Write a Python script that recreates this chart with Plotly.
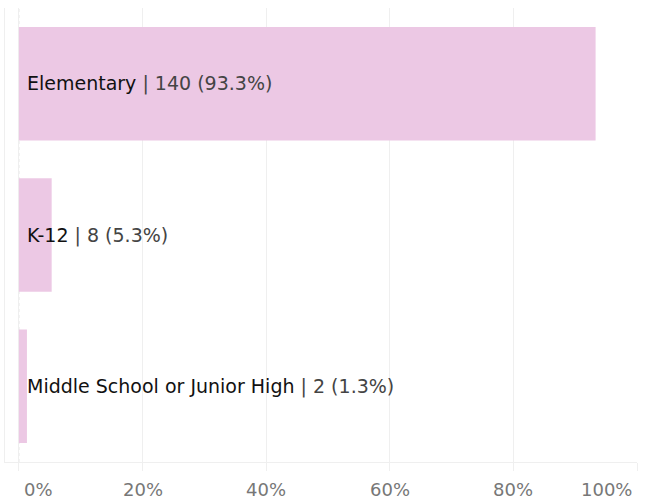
import plotly.graph_objects as go

categories = ["Elementary", "K-12", "Middle School or Junior High"]
counts = [140, 8, 2]
percents = [93.3, 5.3, 1.3]
tick_vals = [0, 0.2, 0.4, 0.6, 0.8, 1.0]
tick_text = ["0%", "20%", "40%", "60%", "80%", "100%"]

bar_color = "#ECC8E4"
grid_color = "#EFEFEF"
font_family = "'DejaVu Sans', Verdana, sans-serif"

fig = go.Figure()
fig.add_trace(go.Bar(
    y=categories,
    x=[p / 100 for p in percents],
    orientation="h",
    marker=dict(color=bar_color, line=dict(width=0)),
    width=0.75,
    hoverinfo="skip",
))

for cat, n, p in zip(categories, counts, percents):
    fig.add_annotation(
        x=0, y=cat, xref="x", yref="y",
        xanchor="left", yanchor="middle", xshift=6,
        showarrow=False,
        text=(f"<span style='color:#111'>{cat}</span>"
              f"<span style='color:#444'> | {n} ({p}%)</span>"),
        font=dict(family=font_family, size=19, color="#222"),
    )

# x tick labels (end labels kept inside the chart like the original)
for i, (v, t) in enumerate(zip(tick_vals, tick_text)):
    if i == 0:
        anchor, shift = "left", 3
    elif i == len(tick_vals) - 1:
        anchor, shift = "right", -3
    else:
        anchor, shift = "center", 0
    fig.add_annotation(
        x=v, y=0, xref="x", yref="paper",
        xanchor=anchor, yanchor="middle", xshift=shift, yshift=-27,
        showarrow=False, text=t,
        font=dict(family=font_family, size=18, color="#777"),
    )

# dashed zero reference line
fig.add_shape(type="line", xref="x", yref="paper", x0=0, x1=0, y0=0, y1=1,
              line=dict(color="#E2E2E2", width=1, dash="dot"), layer="below")

fig.update_layout(
    width=650, height=502,
    margin=dict(l=5, r=13, t=8, b=40, autoexpand=False),
    paper_bgcolor="white", plot_bgcolor="white",
    showlegend=False,
    bargap=0.25,
    font=dict(family=font_family, size=18, color="#666"),
    xaxis=dict(
        range=[-0.0225, 1.0],
        tickvals=tick_vals, showticklabels=False,
        showgrid=True, gridcolor=grid_color, gridwidth=1,
        zeroline=False,
        showline=True, linecolor=grid_color, linewidth=1,
        ticks="outside", ticklen=8, tickcolor=grid_color,
        automargin=False,
    ),
    yaxis=dict(
        autorange="reversed",
        showticklabels=False,
        showgrid=False, zeroline=False,
        showline=True, linecolor=grid_color, linewidth=1,
        ticks="", automargin=False,
    ),
)

fig.write_html(
    "out.html",
    config={"displayModeBar": False, "staticPlot": True},
    post_script="document.body.style.margin='0';document.body.style.padding='0';",
)
